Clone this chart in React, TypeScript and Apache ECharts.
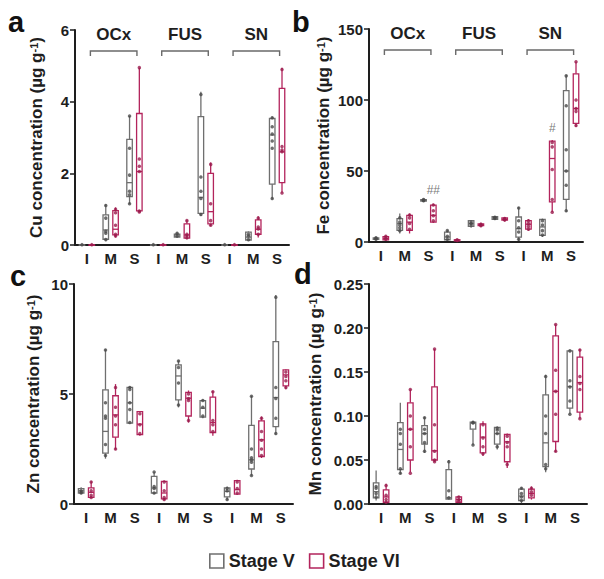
import React, { useEffect, useRef } from 'react';
import * as echarts from 'echarts';

const categories = ['I', 'M', 'S', 'I', 'M', 'S', 'I', 'M', 'S'];
const regions = ['OCx', 'FUS', 'SN'];
const seriesNames = ['Stage V', 'Stage VI'];

// box stats: [min, Q1, median, Q3, max]
const cuStageV = [
  [0, 0, 0, 0.005, 0.01], [0.12, 0.16, 0.42, 0.84, 1.14], [1.14, 1.35, 1.74, 2.95, 3.6],
  [0, 0, 0, 0.005, 0.01], [0.2, 0.22, 0.25, 0.3, 0.35], [0.81, 0.88, 1.33, 3.58, 4.28],
  [0, 0, 0, 0.005, 0.01], [0.12, 0.14, 0.22, 0.36, 0.38], [1.27, 1.7, 3.07, 3.53, 3.58],
];
const cuStageVI = [
  [0, 0, 0, 0.005, 0.01], [0.21, 0.28, 0.44, 0.96, 1.05], [0.92, 0.95, 2.05, 3.67, 4.95],
  [0, 0, 0, 0.005, 0.01], [0.16, 0.19, 0.28, 0.59, 0.7], [0.53, 0.59, 0.93, 2.0, 2.3],
  [0, 0, 0, 0.005, 0.01], [0.21, 0.3, 0.44, 0.7, 0.8], [1.46, 1.74, 2.6, 4.37, 4.95],
];
const cuPointsV = [
  [0.01], [1.1, 0.75, 0.38, 0.33, 0.15], [3.6, 2.7, 1.95, 1.5, 1.4, 1.15],
  [0.01], [0.33, 0.25], [4.2, 1.9, 1.5, 1.3, 0.85],
  [0.01], [0.3, 0.25, 0.15], [3.55, 3.3, 3.1, 2.9, 2.7, 1.3],
];
const cuPointsVI = [
  [0.01], [1.0, 0.9, 0.55, 0.3, 0.25], [4.95, 2.4, 2.2, 2.05, 0.95, 0.92],
  [0.01], [0.68, 0.3, 0.25, 0.2], [2.25, 1.15, 0.68, 0.55],
  [0.01], [0.75, 0.5, 0.45, 0.3], [4.9, 2.75, 2.65, 2.6, 1.45],
];

const feStageV = [
  [1.5, 1.8, 2.2, 2.8, 3.2], [5.9, 8.2, 13, 16.5, 20], [28.5, 28.8, 29.3, 29.8, 30.2],
  [1.2, 1.6, 3.5, 7, 8.2], [10, 11, 13, 15, 15.5], [15.5, 16, 17, 17.8, 18.2],
  [0.7, 3.5, 9.4, 17.6, 24.7], [3.5, 4.7, 10.6, 16, 16.5], [21.2, 30, 50, 106.6, 117.6],
];
const feStageVI = [
  [1.2, 1.5, 2.5, 3.8, 4.6], [6, 8.2, 14, 18.8, 20], [13.4, 14, 18.8, 26, 27],
  [0.5, 0.8, 1.2, 1.6, 2], [11, 11.5, 12, 12.8, 13.5], [14.5, 15.5, 16, 17, 17.5],
  [8, 9, 12.5, 15, 16], [21.2, 28.2, 58.8, 71, 71.8], [81, 83.5, 94, 118.4, 127],
];
const fePointsV = [
  [2, 2.5, 3], [17, 14, 12, 10, 8], [29, 29.5, 30],
  [8, 4, 2], [14, 13, 12], [17, 16.5, 17.5],
  [24, 15, 10, 7, 2], [15, 12, 8, 5], [117, 96, 65, 50, 40, 22],
];
const fePointsVI = [
  [2, 3, 4], [19, 17, 13, 9], [26, 22, 18.5, 15],
  [1, 1.5], [12, 12.5, 11.5], [16, 16.5, 15.5],
  [15, 13, 11, 9], [70, 67, 51, 30, 21], [127, 100, 94, 92, 82],
];
const feMarkCats = [2, 7];
const feMarkValues = [36.5, 80];
const feMarkTexts = ['##', '#'];

const znStageV = [
  [0.45, 0.5, 0.6, 0.7, 0.76], [2.06, 2.31, 3.3, 5.19, 7.03], [3.68, 3.68, 4.6, 5.3, 5.34],
  [0.45, 0.5, 0.73, 1.26, 1.45], [4.39, 4.73, 5.82, 6.32, 6.52], [3.9, 3.95, 4.35, 4.7, 4.75],
  [0.17, 0.32, 0.57, 0.73, 0.8], [1.29, 1.59, 2.01, 3.57, 4.92], [3.15, 3.52, 4.84, 7.38, 9.5],
];
const znStageVI = [
  [0.27, 0.3, 0.53, 0.73, 1.03], [2.47, 3.04, 4.05, 4.92, 5.45], [3.1, 3.15, 3.63, 4.2, 4.2],
  [0.17, 0.23, 0.5, 1.03, 1.06], [3.7, 4.0, 4.81, 5.07, 5.16], [3.1, 3.25, 3.7, 4.86, 5.14],
  [0.42, 0.45, 0.65, 1.06, 1.1], [2.09, 2.16, 2.92, 3.78, 3.98], [5.22, 5.37, 5.87, 6.1, 6.14],
];
const znPointsV = [
  [0.6, 0.55, 0.5], [7.0, 4.6, 4.0, 3.9, 2.7, 2.2], [5.3, 5.2, 4.6, 4.3, 3.7],
  [1.45, 0.8, 0.7, 0.5], [6.5, 6.2, 5.5, 4.5], [4.7, 4.4, 4.0],
  [0.7, 0.6, 0.2], [4.9, 2.5, 2.1, 2.0, 1.9, 1.3], [9.4, 5.3, 4.8, 3.9, 3.2],
];
const znPointsVI = [
  [1.0, 0.6, 0.4, 0.3], [5.3, 4.4, 4.0, 3.6, 2.5], [4.1, 3.6, 3.2],
  [1.0, 0.6, 0.3, 0.2], [5.0, 4.8, 4.7, 3.8], [5.1, 3.8, 3.6, 3.3],
  [1.0, 0.7, 0.5], [3.9, 3.3, 2.9, 2.5, 2.2], [6.0, 5.8, 5.6, 5.3],
];

const mnStageV = [
  [0.004, 0.007, 0.014, 0.024, 0.038], [0.034, 0.039, 0.062, 0.0925, 0.115], [0.058, 0.068, 0.08, 0.089, 0.099],
  [0.005, 0.0056, 0.007, 0.039, 0.05], [0.067, 0.085, 0.092, 0.093, 0.094], [0.062, 0.068, 0.08, 0.087, 0.088],
  [0.001, 0.004, 0.009, 0.017, 0.019], [0.036, 0.0425, 0.0695, 0.124, 0.147], [0.102, 0.109, 0.1335, 0.174, 0.174],
];
const mnStageVI = [
  [0.001, 0.002, 0.008, 0.016, 0.023], [0.036, 0.05, 0.085, 0.115, 0.13], [0.048, 0.05, 0.0605, 0.133, 0.176],
  [0.001, 0.002, 0.005, 0.008, 0.009], [0.0545, 0.058, 0.076, 0.091, 0.094], [0.041, 0.048, 0.0707, 0.079, 0.08],
  [0.005, 0.007, 0.012, 0.017, 0.02], [0.059, 0.071, 0.128, 0.191, 0.204], [0.097, 0.1045, 0.138, 0.167, 0.176],
];
const mnPointsV = [
  [0.02, 0.018, 0.012, 0.008], [0.085, 0.08, 0.068, 0.04, 0.035], [0.098, 0.085, 0.08, 0.07, 0.06],
  [0.048, 0.015, 0.007], [0.093, 0.092, 0.067], [0.086, 0.084, 0.08, 0.065],
  [0.018, 0.012, 0.008, 0.004], [0.145, 0.1, 0.08, 0.045, 0.04], [0.174, 0.14, 0.133, 0.117, 0.102],
];
const mnPointsVI = [
  [0.021, 0.01, 0.005, 0.002], [0.13, 0.1, 0.085, 0.065, 0.035], [0.176, 0.09, 0.06, 0.05, 0.048],
  [0.008, 0.005, 0.003], [0.09, 0.075, 0.065, 0.057], [0.077, 0.07, 0.065, 0.045],
  [0.018, 0.014, 0.01], [0.204, 0.152, 0.128, 0.102, 0.06], [0.175, 0.145, 0.137, 0.13, 0.097],
];

const FONT = '"Liberation Sans", Arial, Helvetica, sans-serif';
const GRAY = '#6f6f6f';
const GRAY_DOT = '#4a4a4a';
const RED = '#b3245c';
const RED_DOT = '#9a1a4c';
const INK = '#1e1e1e';
const BOX_W = 5.5;

const panels = [
  { letter: 'a', el: 'Cu', v: cuStageV, vi: cuStageVI, pv: cuPointsV, pvi: cuPointsVI, max: 6, interval: 2, dec: 0,
    layout: { left: 75, top: 30, width: 214, height: 215 }, nameGap: 30, brackets: true, letterPos: [8, 22] },
  { letter: 'b', el: 'Fe', v: feStageV, vi: feStageVI, pv: fePointsV, pvi: fePointsVI, max: 150, interval: 50, dec: 0,
    layout: { left: 369, top: 29, width: 214, height: 213 }, nameGap: 37, brackets: true, letterPos: [292, 22] },
  { letter: 'c', el: 'Zn', v: znStageV, vi: znStageVI, pv: znPointsV, pvi: znPointsVI, max: 10, interval: 5, dec: 0,
    layout: { left: 74, top: 284, width: 219, height: 220 }, nameGap: 32, brackets: false, letterPos: [10, 276] },
  { letter: 'd', el: 'Mn', v: mnStageV, vi: mnStageVI, pv: mnPointsV, pvi: mnPointsVI, max: 0.25, interval: 0.05, dec: 2,
    layout: { left: 369, top: 284, width: 218, height: 220 }, nameGap: 45, brackets: false, letterPos: [294, 274] },
];

function boxOffset(width: number) {
  const band = width / categories.length;
  const avail = band * 0.8 - 2;
  const gap = (avail / 2) * 0.3;
  const bw = (avail - gap) / 2;
  return (gap + bw) / 2;
}

function pointsToData(pts: number[][]) {
  const out: number[][] = [];
  pts.forEach((list, ci) => list.forEach((val) => out.push([ci, val])));
  return out;
}

function makeBoxRender(offset: number, stroke: string) {
  return (params: any, api: any) => {
    const ci = api.value(0);
    const pMin = api.coord([ci, api.value(1)]);
    const pQ1 = api.coord([ci, api.value(2)]);
    const pMed = api.coord([ci, api.value(3)]);
    const pQ3 = api.coord([ci, api.value(4)]);
    const pMax = api.coord([ci, api.value(5)]);
    const x = pMed[0] + offset;
    const h = BOX_W / 2;
    const ls = { stroke, lineWidth: 1.3, fill: null };
    return {
      type: 'group',
      children: [
        { type: 'line', shape: { x1: x, y1: pMax[1], x2: x, y2: pQ3[1] }, style: ls },
        { type: 'line', shape: { x1: x, y1: pQ1[1], x2: x, y2: pMin[1] }, style: ls },
        { type: 'rect', shape: { x: x - h, y: pQ3[1], width: BOX_W, height: Math.max(pQ1[1] - pQ3[1], 0.5) },
          style: { stroke, lineWidth: 1.3, fill: '#ffffff' } },
        { type: 'line', shape: { x1: x - h, y1: pMed[1], x2: x + h, y2: pMed[1] }, style: ls },
      ],
    };
  };
}

export default function App() {
  const ref = useRef<HTMLDivElement>(null);
  useEffect(() => {
    if (!ref.current) return;
    const chart = echarts.init(ref.current, null, { renderer: 'svg' });
    const grid: any[] = [];
    const xAxis: any[] = [];
    const yAxis: any[] = [];
    const series: any[] = [];
    const graphic: any[] = [];

    panels.forEach((p, i) => {
      grid.push({ ...p.layout, containLabel: false });
      xAxis.push({
        type: 'category', gridIndex: i, data: categories,
        axisLine: { lineStyle: { color: INK, width: 2 } },
        axisTick: { alignWithLabel: true, length: 5, lineStyle: { color: INK, width: 1.5 } },
        axisLabel: { interval: 0, color: INK, fontSize: 15, fontWeight: 'bold', fontFamily: FONT, margin: 6 },
        splitLine: { show: false },
      });
      yAxis.push({
        type: 'value', gridIndex: i, min: 0, max: p.max, interval: p.interval,
        name: `${p.el} concentration (µg g{sup|-1})`,
        nameLocation: 'middle', nameGap: p.nameGap,
        nameTextStyle: {
          fontSize: 17, fontWeight: 'bold', color: INK, fontFamily: FONT,
          rich: { sup: { fontSize: 11, fontWeight: 'bold', color: INK, fontFamily: FONT, verticalAlign: 'top' } },
        },
        axisLine: { show: true, lineStyle: { color: INK, width: 2 } },
        axisTick: { show: true, length: 5, lineStyle: { color: INK, width: 1.5 } },
        axisLabel: {
          color: INK, fontSize: 15, fontWeight: 'bold', fontFamily: FONT, margin: 6,
          formatter: (val: number) => val.toFixed(p.dec),
        },
        splitLine: { show: false },
      });
      const off = boxOffset(p.layout.width);
      [[p.v, GRAY, p.pv, GRAY_DOT, -off], [p.vi, RED, p.pvi, RED_DOT, off]].forEach((cfg: any, k) => {
        series.push({
          type: 'custom', name: seriesNames[k], xAxisIndex: i, yAxisIndex: i, z: 2,
          data: (cfg[0] as number[][]).map((b, ci) => [ci, ...b]),
          encode: { x: 0, y: [1, 2, 3, 4, 5] },
          renderItem: makeBoxRender(cfg[4], cfg[1]),
          itemStyle: { color: '#ffffff', borderColor: cfg[1] },
          emphasis: { disabled: true },
        });
        series.push({
          type: 'scatter', name: seriesNames[k] + ' points', xAxisIndex: i, yAxisIndex: i,
          data: pointsToData(cfg[2]), symbolSize: 3.5, symbolOffset: [cfg[4], 0], z: 5,
          itemStyle: { color: cfg[3] }, emphasis: { disabled: true },
        });
      });
      if (p.brackets) {
        series.push({
          type: 'custom', name: 'regions', xAxisIndex: i, yAxisIndex: i, z: 6,
          data: regions.map((_, k) => [k * 3 + 1, 0]),
          renderItem: (params: any, api: any) => {
            const c = api.coord([api.value(0), 0]);
            const band = api.size([1, 0])[0];
            const top = params.coordSys.y;
            const cx = c[0] + 3;
            const x0 = cx - band + 0.5;
            const x1 = cx + band - 0.5;
            const yl = top + 21;
            return {
              type: 'group',
              children: [
                { type: 'polyline', shape: { points: [[x0, yl + 5], [x0, yl], [x1, yl], [x1, yl + 5]] },
                  style: { stroke: '#6a6a6a', lineWidth: 1.4, fill: null } },
                { type: 'text', style: { text: regions[params.dataIndex], x: cx, y: top + 4, align: 'center', verticalAlign: 'middle',
                  fontSize: 17, fontWeight: 'bold', fontFamily: FONT, fill: INK } },
              ],
            };
          },
        });
      }
      graphic.push({
        type: 'text', left: p.letterPos[0], top: p.letterPos[1] - 15,
        style: { text: p.letter, fontSize: 29, fontWeight: 'bold', fontFamily: FONT, fill: '#111' },
      });
    });

    const feOff = boxOffset(panels[1].layout.width);
    series.push({
      type: 'scatter', name: 'significance', xAxisIndex: 1, yAxisIndex: 1, z: 7,
      data: feMarkCats.map((c, k) => [c, feMarkValues[k]]),
      symbolSize: 1, itemStyle: { color: 'rgba(0,0,0,0)' },
      label: {
        show: true, position: 'inside', offset: [feOff, 0], color: '#555', fontSize: 12, fontFamily: FONT,
        formatter: (prm: any) => feMarkTexts[prm.dataIndex],
      },
      emphasis: { disabled: true },
    });

    chart.setOption({
      animation: false,
      backgroundColor: '#ffffff',
      textStyle: { fontFamily: FONT },
      grid, xAxis, yAxis, series, graphic,
      legend: {
        left: 204, top: 547, itemWidth: 14, itemHeight: 14, itemGap: 14, icon: 'rect', selectedMode: false,
        textStyle: { fontSize: 18, fontWeight: 'bold', color: INK, fontFamily: FONT },
        data: [
          { name: 'Stage V', itemStyle: { color: '#ffffff', borderColor: GRAY, borderWidth: 1.6 } },
          { name: 'Stage VI', itemStyle: { color: '#ffffff', borderColor: RED, borderWidth: 1.6 } },
        ],
      },
    });
    return () => chart.dispose();
  }, []);
  return <div ref={ref} style={{ position: 'fixed', left: 0, top: 0, width: 604, height: 579 }} />;
}
